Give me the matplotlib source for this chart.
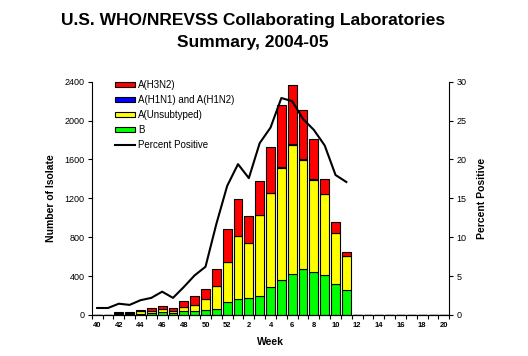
import matplotlib
matplotlib.use("Agg")
import matplotlib.pyplot as plt
from matplotlib.patches import Patch
from matplotlib.lines import Line2D
import numpy as np

plt.rcParams['font.family'] = ['Liberation Sans', 'DejaVu Sans']

# weeks of the 2004-05 season
weeks = [40, 41, 42, 43, 44, 45, 46, 47, 48, 49, 50, 51, 52,
         1, 2, 3, 4, 5, 6, 7, 8, 9, 10, 11, 12, 13, 14, 15, 16, 17, 18, 19, 20]

b_vals = [0, 0, 8, 8, 12, 22, 28, 24, 38, 38, 48, 61, 130,
          160, 171, 191, 283, 365, 420, 478, 447, 410, 317, 253,
          0, 0, 0, 0, 0, 0, 0, 0, 0]
unsub_vals = [0, 0, 14, 14, 28, 20, 32, 22, 44, 61, 112, 235, 420,
              652, 566, 833, 977, 1151, 1331, 1112, 945, 839, 529, 358,
              0, 0, 0, 0, 0, 0, 0, 0, 0]
h1_vals = [0, 0, 0, 0, 0, 0, 0, 0, 0, 0, 0, 0, 0,
           0, 0, 0, 0, 3, 8, 10, 5, 0, 0, 0,
           0, 0, 0, 0, 0, 0, 0, 0, 0]
h3_vals = [0, 0, 8, 6, 10, 30, 32, 22, 65, 96, 106, 182, 330,
           386, 283, 351, 471, 637, 602, 511, 410, 154, 109, 34,
           0, 0, 0, 0, 0, 0, 0, 0, 0]

# percent positive, only reported up to week 11
pct_vals = [0.9, 0.9, 1.45, 1.3, 1.9, 2.2, 3.0, 2.2, 3.6, 5.1, 6.2, 11.7, 16.6,
            19.4, 17.6, 22.1, 24.1, 27.9, 27.5, 25.2, 23.8, 21.8, 18.0, 17.1]

x = np.arange(len(weeks))
b = np.array(b_vals)
u = np.array(unsub_vals)
h1 = np.array(h1_vals)
h3 = np.array(h3_vals)

fig = plt.figure(figsize=(5.28, 3.56), dpi=100)
ax = fig.add_axes([0.1737, 0.1152, 0.6773, 0.6553])

w = 0.82
ax.bar(x, b, w, color='#00FF00', edgecolor='black', linewidth=0.8)
ax.bar(x, u, w, bottom=b, color='#FFFF00', edgecolor='black', linewidth=0.8)
ax.bar(x, h1, w, bottom=b + u, color='#0000FF', edgecolor='black', linewidth=0.8)
ax.bar(x, h3, w, bottom=b + u + h1, color='#FF0000', edgecolor='black', linewidth=0.8)

ax.set_xlim(-0.5, len(weeks) - 0.5)
ax.set_ylim(0, 2400)
ax.set_yticks(range(0, 2401, 400))
ax.tick_params(axis='y', labelsize=6.5, length=3, width=0.8, pad=2)

# category axis: ticks between weeks, labels every other week
ax.set_xticks(np.arange(-0.5, len(weeks), 1))
ax.set_xticklabels([])
ax.tick_params(axis='x', which='major', length=3, width=0.8)
ax.set_xticks(x[::2], minor=True)
ax.set_xticklabels([str(wk) for wk in weeks[::2]], minor=True,
                   fontsize=5.5, fontweight='bold')
ax.tick_params(axis='x', which='minor', length=0, pad=5)

ax.spines['top'].set_visible(False)
ax.spines['right'].set_visible(False)
ax.set_ylabel("Number of Isolate", fontsize=7.5, fontweight='bold', labelpad=6)
ax.set_xlabel("Week", fontsize=7.5, fontweight='bold', labelpad=6)

ax2 = ax.twinx()
ax2.plot(x[:len(pct_vals)], pct_vals, color='black', linewidth=1.5)
ax2.set_ylim(0, 30)
ax2.set_yticks(range(0, 31, 5))
ax2.tick_params(axis='y', labelsize=6.5, length=3, width=0.8, pad=2)
ax2.spines['top'].set_visible(False)
ax2.spines['left'].set_visible(False)
ax2.set_ylabel("Percent Positive", fontsize=7.5, fontweight='bold', labelpad=8)

handles = [
    Patch(facecolor='#FF0000', edgecolor='black', linewidth=0.8),
    Patch(facecolor='#0000FF', edgecolor='black', linewidth=0.8),
    Patch(facecolor='#FFFF00', edgecolor='black', linewidth=0.8),
    Patch(facecolor='#00FF00', edgecolor='black', linewidth=0.8),
    Line2D([], [], color='black', linewidth=1.5),
]
labels = ["A(H3N2)", "A(H1N1) and A(H1N2)", "A(Unsubtyped)", "B", "Percent Positive"]
ax2.legend(handles, labels, loc='upper left', bbox_to_anchor=(0.06, 1.015),
           frameon=False, fontsize=7, handlelength=2.05, handleheight=0.45,
           handletextpad=0.28, labelspacing=0.5, borderaxespad=0.0, borderpad=0.2)

fig.suptitle("U.S. WHO/NREVSS Collaborating Laboratories\nSummary, 2004-05",
             fontsize=12.5, fontweight='bold', y=0.963, x=0.479, linespacing=1.55)

fig.savefig("out.png", dpi=100)
